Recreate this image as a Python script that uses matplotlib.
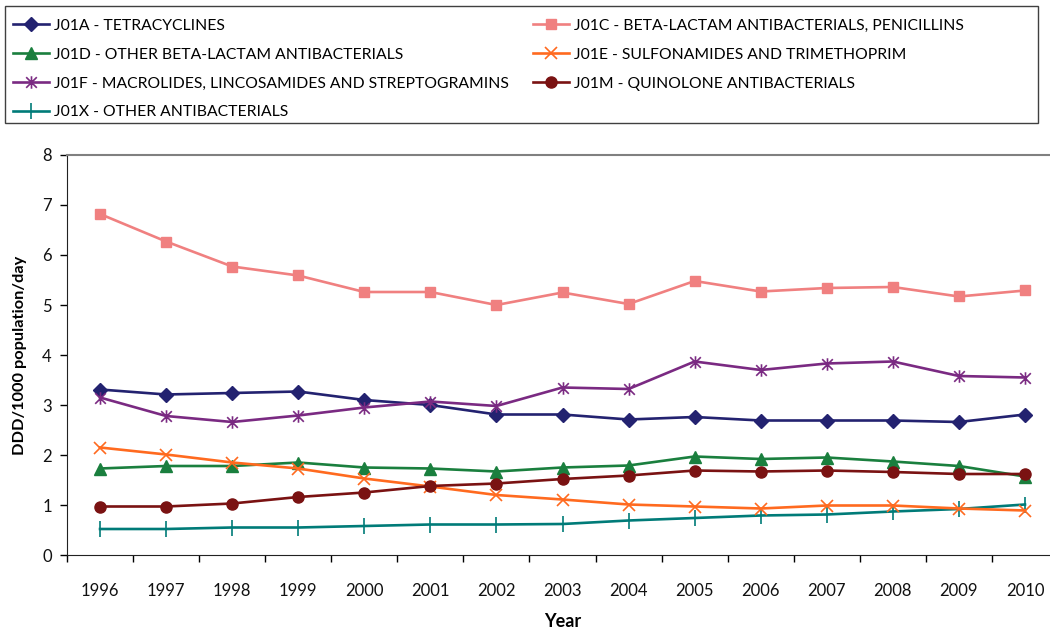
import matplotlib
matplotlib.use("Agg")
import matplotlib.pyplot as plt
from matplotlib.path import Path
from matplotlib.patches import Rectangle

plt.rcParams['font.family'] = ['Lato', 'DejaVu Sans']

years = ['1996', '1997', '1998', '1999', '2000', '2001', '2002', '2003',
         '2004', '2005', '2006', '2007', '2008', '2009', '2010']

j01a = [3.31, 3.21, 3.24, 3.27, 3.10, 3.00, 2.81, 2.81, 2.71, 2.76, 2.69, 2.69, 2.69, 2.66, 2.81]
j01c = [6.82, 6.27, 5.77, 5.59, 5.26, 5.26, 5.00, 5.25, 5.02, 5.48, 5.27, 5.34, 5.36, 5.17, 5.29]
j01d = [1.73, 1.78, 1.78, 1.85, 1.75, 1.73, 1.67, 1.75, 1.79, 1.97, 1.92, 1.95, 1.87, 1.78, 1.57]
j01e = [2.15, 2.01, 1.85, 1.73, 1.53, 1.37, 1.20, 1.11, 1.01, 0.97, 0.93, 0.99, 0.99, 0.93, 0.89]
j01f = [3.15, 2.78, 2.66, 2.79, 2.95, 3.07, 2.98, 3.35, 3.32, 3.87, 3.70, 3.83, 3.87, 3.58, 3.55]
j01m = [0.97, 0.97, 1.03, 1.16, 1.25, 1.38, 1.43, 1.52, 1.59, 1.69, 1.67, 1.69, 1.66, 1.62, 1.62]
j01x = [0.52, 0.52, 0.55, 0.55, 0.58, 0.61, 0.61, 0.62, 0.69, 0.74, 0.79, 0.81, 0.87, 0.92, 1.01]

labels = {
    'A': 'J01A - TETRACYCLINES',
    'C': 'J01C - BETA-LACTAM ANTIBACTERIALS, PENICILLINS',
    'D': 'J01D - OTHER BETA-LACTAM ANTIBACTERIALS',
    'E': 'J01E - SULFONAMIDES AND TRIMETHOPRIM',
    'F': 'J01F - MACROLIDES, LINCOSAMIDES AND STREPTOGRAMINS',
    'M': 'J01M - QUINOLONE ANTIBACTERIALS',
    'X': 'J01X - OTHER ANTIBACTERIALS',
}

star = Path([(0, -1), (0, 1), (-0.85, -0.85), (0.85, 0.85), (-0.85, 0.85), (0.85, -0.85)],
            [Path.MOVETO, Path.LINETO, Path.MOVETO, Path.LINETO, Path.MOVETO, Path.LINETO])

W, H = 1050, 637
fig = plt.figure(figsize=(W / 100, H / 100), dpi=100)
ax = fig.add_axes([67 / W, (H - 555) / H, (1058 - 67) / W, 400 / H])

x = list(range(len(years)))
lw = 1.9
hA, = ax.plot(x, j01a, color='#232270', marker='D', ms=7, lw=lw, label=labels['A'])
hC, = ax.plot(x, j01c, color='#F08080', marker='s', ms=7, lw=lw, label=labels['C'])
hD, = ax.plot(x, j01d, color='#1A7F3E', marker='^', ms=8, lw=lw, label=labels['D'])
hE, = ax.plot(x, j01e, color='#FF6A1F', marker='x', ms=9, mew=1.2, lw=lw, label=labels['E'])
hF, = ax.plot(x, j01f, color='#7A2A82', marker=star, ms=9, mew=1.2, lw=lw, label=labels['F'])
hM, = ax.plot(x, j01m, color='#7A1212', marker='o', ms=8, lw=lw, label=labels['M'])
hX, = ax.plot(x, j01x, color='#007B78', marker='|', ms=11, mew=1.2, lw=lw, label=labels['X'])
hX.set_zorder(1.9)

ax.set_xlim(-0.5, 14.5)
ax.set_ylim(0, 8)
ax.set_yticks(range(0, 9))
ax.set_xticks(x)
ax.set_xticklabels(years)
ax.set_xticks([i - 0.5 for i in range(16)], minor=True)
ax.tick_params(axis='x', which='major', length=0, pad=20, labelsize=12)
ax.tick_params(axis='x', which='minor', length=5, direction='out', width=1)
ax.tick_params(axis='y', length=5, direction='out', width=1, labelsize=12, pad=6)
for lab in ax.get_xticklabels() + ax.get_yticklabels():
    lab.set_color('#111111')
ax.spines['right'].set_visible(False)
ax.spines['top'].set_color('#808080')
ax.spines['top'].set_linewidth(1.5)
ax.spines['left'].set_color('#222222')
ax.spines['bottom'].set_color('#222222')
ax.set_xlabel('Year', fontsize=13, fontweight='bold', labelpad=10)
ax.set_ylabel('DDD/1000 population/day', fontsize=11.8, fontweight='bold', labelpad=11)

fig.patches.append(Rectangle((5 / W, 1 - 123 / H), (1038 - 5) / W, (123 - 6) / H,
                             transform=fig.transFigure, fill=False,
                             edgecolor='#404040', lw=1.0))
handles = [hA, hD, hF, hX, hC, hE, hM]
fig.legend(handles=handles, labels=[h.get_label() for h in handles], ncol=2,
           loc='upper left', bbox_to_anchor=(8 / W, 1 - 14 / H), frameon=False,
           fontsize=11.3, handlelength=2.3, handletextpad=0.35, columnspacing=1.5,
           labelspacing=0.95, borderpad=0.3, borderaxespad=0)

fig.savefig('out.png', dpi=100)
